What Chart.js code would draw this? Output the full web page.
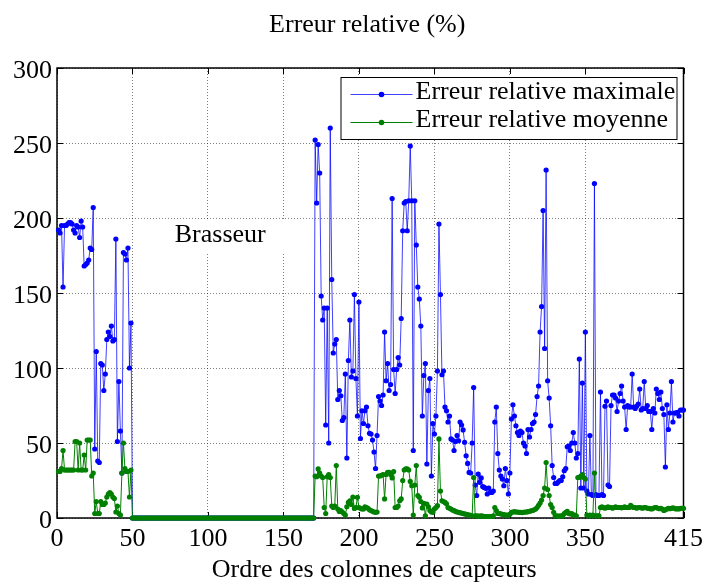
<!DOCTYPE html>
<html><head><meta charset="utf-8">
<script src="https://cdn.jsdelivr.net/npm/chart.js@4.4.1/dist/chart.umd.min.js"></script>
<style>html,body{margin:0;padding:0;background:#fff;}#wrap{width:709px;height:584px;}</style>
</head><body><div id="wrap"><canvas id="c" width="709" height="584"></canvas></div>
<script>
// ---- data ----
const columnIndex = Array.from({length: 415}, (_, i) => i + 1);
const maxError = [
192,190,195,154,195,195,196,197,197,196,
192,190,195,194,187,198,194,168,169,170,
172,180,179,207,46,111,38,37,103,102,
85,96,119,124,121,128,118,119,186,51,
91,58,30,177,176,172,180,100,130,0,
0,0,0,0,0,0,0,0,0,0,0,0,0,0,0,0,0,0,0,0,
0,0,0,0,0,0,0,0,0,0,0,0,0,0,0,0,0,0,0,0,
0,0,0,0,0,0,0,0,0,0,0,0,0,0,0,0,0,0,0,0,
0,0,0,0,0,0,0,0,0,0,0,0,0,0,0,0,0,0,0,0,
0,0,0,0,0,0,0,0,0,0,0,0,0,0,0,0,0,0,0,0,
0,0,0,0,0,0,0,0,0,0,0,0,0,0,0,0,0,0,0,0,
252,210,249,230,148,132,140,62,140,50,
260,159,110,116,119,79,85,81.5,65,67,
96,40,105,132,94,98,149,93,68,144,
53,71.5,63,71.5,74,61.5,56.5,56,52,44,
33,55,81,78,75,82,124,91.5,103,85,
89,213,99,83,99,107,102,133,191.5,210,
211,191.5,211.5,248,211.5,45,211.5,182,154,146,
128,68,95,103,36,85,93,28,63,56,
68,98,196,149,95.5,98,74,71.5,64,68,
52.7,52,45,51,55,51.5,64,62,58.7,50.5,
41.5,36.4,30.4,30,50,87,22,15,29.3,23.8,
26.7,21,20.4,19.8,16,20,17,17,18,64,
74,43,32,28,26,21.5,33,25,16,30,
66,75.5,68,61.5,57,55,58,57,50,48,
43,59,54,59,63,64,69,81,88,124,
141,205,113,232,91.5,80,61.5,35,27,23,
23,24,25,25,27.5,31.5,33,47.5,48,45,
50,57,50,40,43,106,20,90,20,124,
18,16,55,15.6,15,223,15.6,15,15,84,
15.6,15,74.5,78,22,21,75,82,82,80,
71,78,83,88,78,74,59,75,74,74,
96,74,73,74.5,76,86,72,73,91,73,
75,71,71,59,73,70,86,83,79,84,
73,69,34,75.5,59,70,91,64,70,70,
70.5,68,72,72,72
];
const meanError = [
31,31,33,45,32,32,32,32,32,32,
32,51,51,32,50,32,32,42,32,52,
52,52,28,30,3,11,3,3,11,9,
9,10,14,16,17,16,14,13,4,8,
3,2,30,50,33,31,31,14,32,0,
0,0,0,0,0,0,0,0,0,0,0,0,0,0,0,0,0,0,0,0,
0,0,0,0,0,0,0,0,0,0,0,0,0,0,0,0,0,0,0,0,
0,0,0,0,0,0,0,0,0,0,0,0,0,0,0,0,0,0,0,0,
0,0,0,0,0,0,0,0,0,0,0,0,0,0,0,0,0,0,0,0,
0,0,0,0,0,0,0,0,0,0,0,0,0,0,0,0,0,0,0,0,
0,0,0,0,0,0,0,0,0,0,0,0,0,0,0,0,0,0,0,0,
28,27.5,32.7,30,28,27,7,3,27.5,29,
27,8,7,8,35,6,4.4,5,4,3,
2,7.5,10.4,11.5,9,14,6.4,7,13.8,7,
6.5,6,6,7.5,7,6.5,5.5,5,4.5,4,
3.8,4,28,28,28.5,29,12.7,29,30.4,30.4,
29,26.7,31,7,7,8,11.5,12.7,25,32,
32.7,32.7,32,24.4,21.5,2,22,35,15,13.8,
11,6.7,9.8,1.5,9.3,7.5,5,4,3.8,6,
7,8.2,52.7,18,11.5,11,10.4,9.5,7,6.5,
6,5.3,5,4.4,4,3.8,3.5,3.3,3,2.7,
2.5,2.2,2,1.8,1.5,27,1.5,1.5,1.2,1.2,
1.5,1.2,1,1,1,1,1,1,1.5,7,
5,3,3,2.7,2.5,2.2,2,2,2,2.5,
3.8,4,4.2,4,4,3.8,3.8,3.6,3.8,4,
4,4.2,4.5,4.8,5,5.5,6,7,8.5,10,
12,15,20,37,19,15,9,7,3.8,1.5,
1.5,1.2,1.2,1.5,1.5,3,3.8,4.4,3,2.7,
3,2,2,1.5,27,27,28,29,27,26,
2,1.5,2,1.5,2,30,1.5,1.5,1.5,7,
7.5,7,6.5,7,7.5,7,7,6.5,7,7.5,
7,7,7,6.8,7,7.5,7,7,7,8.5,
7.5,7,7,6.5,7,7,6.8,6.5,7,7,
6.5,6.5,6.2,6,6.5,7,7,6.5,6.2,6.5,
6,5,5.5,6,6.5,6.2,6.5,6.8,6.5,6,
6.2,6,6.5,6.5,6.5
];
const xTicks = [0, 50, 100, 150, 200, 250, 300, 350, 415];
const yTicks = [0, 50, 100, 150, 200, 250, 300];
const seriesLabels = ['Erreur relative maximale', 'Erreur relative moyenne'];
const chartTitle = 'Erreur relative (%)';
const xAxisTitle = 'Ordre des colonnes de capteurs';
const noteText = 'Brasseur';
const notePos = {x: 78, y: 184};

// ---- styles ----
const FAMILY = '"Liberation Serif", "Times New Roman", serif';
const FONT = '26px ' + FAMILY;
const BLUE = '#0000ff', BLUE_LINE = 'rgba(0,0,255,0.75)', GREEN = '#008000';

const decor = {
  id: 'decor',
  beforeDatasetsDraw(chart) {
    const {ctx, chartArea: a, scales: {x, y}} = chart;
    ctx.save();
    // annotation
    const px = x.getPixelForValue(notePos.x), py = y.getPixelForValue(notePos.y);
    ctx.font = FONT;
    const w = ctx.measureText(noteText).width;
    ctx.fillStyle = '#fff';
    ctx.fillRect(px - 3, py - 23, w + 26, 35);
    ctx.fillStyle = '#000';
    ctx.textAlign = 'left'; ctx.textBaseline = 'alphabetic';
    ctx.fillText(noteText, px, py);
    // inward ticks
    ctx.strokeStyle = '#000'; ctx.lineWidth = 1;
    const ln = (x1, y1, x2, y2) => { ctx.beginPath(); ctx.moveTo(x1, y1); ctx.lineTo(x2, y2); ctx.stroke(); };
    xTicks.forEach(v => { const p = Math.round(x.getPixelForValue(v)) + 0.5; ln(p, a.bottom, p, a.bottom - 6); ln(p, a.top, p, a.top + 6); });
    yTicks.forEach(v => { const p = Math.round(y.getPixelForValue(v)) + 0.5; ln(a.left, p, a.left + 6, p); ln(a.right, p, a.right - 6, p); });
    // box
    ctx.lineWidth = 1.5;
    ctx.strokeRect(a.left, a.top, a.right - a.left, a.bottom - a.top);
    ctx.restore();
  },
  afterDraw(chart) {
    const {ctx, chartArea: a} = chart;
    ctx.save();
    ctx.font = FONT; ctx.fillStyle = '#000';
    ctx.textAlign = 'center'; ctx.textBaseline = 'alphabetic';
    const cx = (a.left + a.right) / 2;
    ctx.fillText(chartTitle, cx - 3, 32);
    ctx.fillText(xAxisTitle, cx + 4, 577);
    // legend
    const L = a.right - 343, T = a.top + 9, R = a.right - 7, B = a.top + 71;
    ctx.fillStyle = '#fff'; ctx.fillRect(L, T, R - L, B - T);
    ctx.strokeStyle = '#000'; ctx.lineWidth = 1; ctx.strokeRect(L + 0.5, T + 0.5, R - L, B - T);
    const rows = [{lab: seriesLabels[0], line: BLUE_LINE, pt: BLUE, y: T + 17}, {lab: seriesLabels[1], line: GREEN, pt: GREEN, y: T + 45}];
    rows.forEach(r => {
      ctx.strokeStyle = r.line; ctx.lineWidth = 1;
      ctx.beginPath(); ctx.moveTo(L + 10, r.y + 0.5); ctx.lineTo(L + 72, r.y + 0.5); ctx.stroke();
      ctx.fillStyle = r.pt; ctx.beginPath(); ctx.arc(L + 41, r.y + 0.5, 2.8, 0, Math.PI * 2); ctx.fill();
      ctx.fillStyle = '#000'; ctx.textAlign = 'left'; ctx.textBaseline = 'alphabetic';
      ctx.fillText(r.lab, L + 75, r.y + 4.5 + 0);
    });
    ctx.restore();
  }
};

const toXY = arr => arr.map((v, i) => ({x: columnIndex[i], y: v}));

new Chart(document.getElementById('c'), {
  type: 'line',
  data: {datasets: [
    {label: seriesLabels[1], data: toXY(meanError), borderColor: GREEN, backgroundColor: GREEN,
     pointBackgroundColor: GREEN, borderWidth: 1, pointRadius: 2.6, pointBorderWidth: 0, pointHoverRadius: 2.6,
     tension: 0, order: 0, clip: false},
    {label: seriesLabels[0], data: toXY(maxError), borderColor: BLUE_LINE, backgroundColor: BLUE,
     pointBackgroundColor: BLUE, borderWidth: 1, pointRadius: 2.6, pointBorderWidth: 0, pointHoverRadius: 2.6,
     tension: 0, order: 1, clip: false}
  ]},
  options: {
    responsive: false, animation: false, devicePixelRatio: 1,
    layout: {padding: {top: 68, right: 23, left: 0, bottom: 0}},
    plugins: {legend: {display: false}, tooltip: {enabled: false}, title: {display: false}},
    scales: {
      x: {
        type: 'linear', min: 0, max: 415,
        afterFit(s) { s.height = 66; },
        afterBuildTicks(s) { s.ticks = xTicks.map(v => ({value: v})); },
        grid: {color: 'rgba(0,0,0,0.5)', lineWidth: 1, drawTicks: false},
        border: {display: false, dash: [1, 2]},
        ticks: {font: {family: FAMILY, size: 26}, color: '#000', maxRotation: 0, autoSkip: false, padding: 6,
                callback: v => String(v)}
      },
      y: {
        min: 0, max: 300,
        afterFit(s) { s.width = 57; },
        afterBuildTicks(s) { s.ticks = yTicks.map(v => ({value: v})); },
        grid: {color: 'rgba(0,0,0,0.5)', lineWidth: 1, drawTicks: false},
        border: {display: false, dash: [1, 2]},
        ticks: {font: {family: FAMILY, size: 26}, color: '#000', padding: 5, labelOffset: 3,
                callback: v => String(v)}
      }
    }
  },
  plugins: [decor]
});
</script>
</body></html>
